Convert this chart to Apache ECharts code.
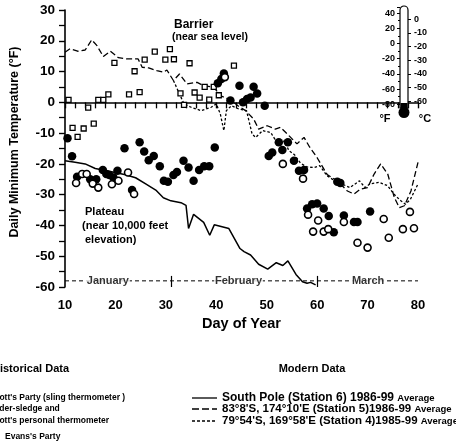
<!DOCTYPE html>
<html><head><meta charset="utf-8">
<script src="https://cdn.jsdelivr.net/npm/echarts@6/dist/echarts.min.js"></script>
<style>html,body{margin:0;padding:0;background:#fff}#c{width:456px;height:448px}</style>
</head><body><div id="c"></div>
<script>
// ---- Historical data ----
// Lt. Evans's party (open squares)
const evansDays  = [10.7,11.5,12.5,13.7,14.6,15.7,16.6,17.6,18.6,19.8,22.7,23.8,24.8,25.8,27.8,29.9,30.8,31.6,32.9,33.6,34.7,35.7,36.7,37.7,38.6,39.5,40.5,43.5];
const evansTemps = [0.8,-8.3,-11.2,-8.5,-1.7,-6.9,0.8,0.8,2.6,12.8,2.6,10.1,3.3,13.9,16.5,13.9,17.3,14.0,2.9,-0.8,12.7,3.2,1.5,5.0,0.9,5.0,2.3,11.9];
// Scott's party, sling thermometer (filled circles)
const scottDays  = [10.5,11.4,12.4,15.0,16.2,17.5,18.2,18.8,19.6,20.4,21.8,23.3,24.8,25.7,26.6,27.6,28.8,29.6,30.4,31.5,32.2,33.5,34.5,35.5,36.6,37.6,38.6,39.7,40.3,41.0,41.5,42.8,44.6,45.3,46.1,46.8,47.4,48.1,49.6,50.4,51.1,52.4,53.1,54.2,55.4,56.4,57.4,58.0,59.0,60.0,61.3,62.3,63.3,64.0,64.6,65.3,67.3,68.0,70.5];
const scottTemps = [-11.7,-17.5,-24.2,-25.0,-25.0,-22.0,-23.3,-23.6,-24.4,-22.2,-14.9,-28.5,-13.0,-16.0,-18.8,-17.4,-20.8,-25.5,-25.8,-23.6,-22.6,-19.0,-21.2,-25.5,-22.0,-20.8,-20.8,-14.7,6.2,7.6,9.4,0.6,5.4,0.0,1.1,1.6,5.1,2.9,-1.1,-17.4,-16.3,-13.0,-15.5,-13.0,-19.0,-22.2,-22.0,-34.5,-33.1,-32.9,-34.5,-36.9,-42.2,-25.8,-26.2,-36.8,-38.9,-38.9,-35.5];
// Under-sledge and Scott's personal thermometer (open circles)
const sledgeDays  = [12.2,13.4,14.3,15.5,16.6,19.3,20.6,22.5,23.7,41.7,53.2,57.2,58.2,59.2,60.2,61.3,62.2,65.3,68.0,70.0,73.2,74.2,77.0,78.4,79.2];
const sledgeTemps = [-26.2,-23.3,-23.3,-26.4,-27.7,-26.6,-25.5,-22.8,-29.8,8.2,-20.0,-24.8,-36.5,-42.0,-38.4,-42.0,-41.2,-38.9,-45.6,-47.2,-37.9,-44.0,-41.2,-35.6,-40.9];
// ---- Modern data ----
const spDays  = [10,12,14,16,19,22,24,26,28,29.5,31,33,34,34.5,35.5,37.5,38.7,39.6,42.5,44.7,45.5,46.8,48.4,50.2,51.9,53.2,54.2,55.8,57.1,58,58.7,59.7];
const spTemps = [-19,-19.5,-20,-21.5,-22.5,-23.5,-24.5,-26.5,-28.5,-31,-32,-32.6,-33.5,-41,-36.4,-39,-43.2,-39.8,-41,-47.5,-48.5,-49.6,-52.6,-54.2,-52.1,-53,-51.5,-55.9,-58.3,-58.8,-58.5,-59.3];
const s5Days  = [10,11,12.5,14,15.3,16.3,17.6,19,20.6,22.3,24.5,25.3,26.6,28.2,29.5,30.2,31.5,32.7,34.2,36.2,37.5,39.5,40.8,43,44.3,45.8,47.4,48.4,50.1,51.7,52.7,54.1,56,57.4,58.5,60,62,64,66,67.3,68.6,70,71.3,72.6,74,75.3,76.3,77.3,78.6,80];
const s5Temps = [16.3,17.4,16.6,17,20.3,18.5,14.9,16.6,14.5,14.1,14.1,11.4,11.2,10.3,9.8,10.5,7.1,9.2,6.0,6.5,5.4,4.9,2.2,0.6,-1.1,-2.7,-5.4,-8.7,-7.6,-8.7,-8.1,-10.3,-13.5,-11.4,-14.5,-18,-23.5,-25.5,-28.8,-29.8,-28.2,-27.7,-23.3,-20,-23.3,-30.9,-34.2,-33.6,-28.8,-19.5];
const s4Days  = [31.5,33.6,35,37,39,40,40.8,41.5,42,43,44.5,46,47.1,47.8,49.2,50.8,52.2,53.5,54.4,55.5,56.7,58,59.4,60.5,62,63.5,65,66.5,68.4,69.5,70.5,72.3,74,75.2,76.6,77.5,78.5,80];
const s4Temps = [7.1,-0.5,-1.6,-2.7,-1.6,-0.5,-3.8,-9.2,-2.7,-1.1,-2.2,-2.7,-10.3,-11.4,-9.2,-9.8,-13.5,-12.5,-15.7,-17,-19.8,-21,-21.2,-20.6,-23.9,-25.5,-26.6,-27.7,-25.5,-27.7,-26.5,-26,-27.1,-29.8,-32,-33.1,-31.5,-26.5];
// ---- Month band ----
const monthNames = ['January','February','March'];
const monthMid   = [18.5,44.4,70.1];
const monthBounds = [31,60];
const monthLevel = -58;
// ---- Thermometer scale ----
const thermoF = [-80,48];
const thermoC = [0,-10,-20,-30,-40,-50,-60];

const FF = '"Liberation Sans", Arial, sans-serif';
const zip = (a,b)=>a.map((v,i)=>[v,b[i]]);
const chart = echarts.init(document.getElementById('c'));
const bold = (s)=>({color:'#000',fontFamily:FF,fontWeight:'bold',fontSize:s});

const option = {
  animation:false,
  backgroundColor:'#fff',
  grid:[{left:65,top:10,width:353,height:277},{left:400,top:7,width:8,height:97.3}],
  xAxis:[
    {type:'value',gridIndex:0,min:10,max:80,interval:10,
     axisLine:{lineStyle:{color:'#000',width:1.6}},
     axisTick:{length:6,lineStyle:{color:'#000',width:1.4}},
     minorTick:{show:true,splitNumber:5,length:6,lineStyle:{color:'#000',width:1.3}},
     splitLine:{show:false},
     axisLabel:Object.assign({margin:12},bold(13)),
     name:'Day of Year',nameLocation:'middle',nameGap:21,nameTextStyle:bold(14.5)},
    {type:'value',gridIndex:1,show:false,min:0,max:1}
  ],
  yAxis:[
    {type:'value',gridIndex:0,min:-60,max:30,interval:10,
     axisLine:{show:true,lineStyle:{color:'#000',width:1.6}},
     axisTick:{show:true,length:6,lineStyle:{color:'#000',width:1.4}},
     minorTick:{show:true,splitNumber:2,length:6,lineStyle:{color:'#000',width:1.3}},
     splitLine:{show:false},
     axisLabel:Object.assign({margin:10},bold(13.5))},
    {type:'value',gridIndex:1,min:thermoF[0],max:thermoF[1],interval:20,
     axisLine:{show:false},
     axisTick:{show:true,length:3,lineStyle:{color:'#000',width:1}},
     minorTick:{show:true,splitNumber:2,length:2,lineStyle:{color:'#000',width:1}},
     splitLine:{show:false},
     axisLabel:Object.assign({margin:5},bold(9))},
    {type:'value',gridIndex:1,position:'right',min:(thermoF[0]-32)/1.8,max:(thermoF[1]-32)/1.8,
     axisLine:{show:false},
     axisTick:{show:true,length:3,customValues:thermoC,lineStyle:{color:'#000',width:1}},
     splitLine:{show:false},
     axisLabel:Object.assign({margin:6,customValues:thermoC},bold(9))}
  ],
  series:[
    {type:'line',name:'Station 5',data:zip(s5Days,s5Temps),symbol:'none',
     lineStyle:{color:'#000',width:1.3,type:[6,3]},z:2},
    {type:'line',name:'Station 4',data:zip(s4Days,s4Temps),symbol:'none',
     lineStyle:{color:'#000',width:1.3,type:[2.5,2]},z:2},
    {type:'line',name:'South Pole',data:zip(spDays,spTemps),symbol:'none',
     lineStyle:{color:'#000',width:1.5},z:2},
    {type:'line',name:'months',data:[[10,monthLevel],[80,monthLevel]],symbol:'none',
     lineStyle:{color:'#000',width:1,type:[4,3]},z:1,
     markLine:{silent:true,symbol:'none',label:{show:false},
       lineStyle:{color:'#000',width:1.2,type:'solid'},
       data:monthBounds.map(d=>[{coord:[d,monthLevel+1.6]},{coord:[d,-60]}])}},
    {type:'scatter',name:'monthLabels',symbolSize:0,z:3,
     data:monthMid.map((d,i)=>({value:[d,monthLevel],name:monthNames[i]})),
     label:Object.assign({show:true,position:'inside',formatter:p=>p.name,
       backgroundColor:'#fff',padding:[0,1]},bold(11))},
    {type:'scatter',name:'Evans',data:zip(evansDays,evansTemps),symbol:'rect',symbolSize:5,
     itemStyle:{color:'#fff',borderColor:'#000',borderWidth:1.3,opacity:1},z:4},
    {type:'scatter',name:'Scott',data:zip(scottDays,scottTemps),symbol:'circle',symbolSize:8.5,
     itemStyle:{color:'#000',opacity:1},z:5},
    {type:'scatter',name:'Sledge',data:zip(sledgeDays,sledgeTemps),symbol:'circle',symbolSize:7,
     itemStyle:{color:'#fff',borderColor:'#000',borderWidth:1.6,opacity:1},z:6}
  ],
  graphic:[
    {type:'text',x:15,y:142,rotation:Math.PI/2,style:{text:'Daily Minimum Temperature (°F)',
      font:'bold 12.5px '+FF,fill:'#000',align:'center',verticalAlign:'middle'}},
    {type:'text',x:174,y:25,style:{text:'Barrier',font:'bold 12px '+FF,fill:'#000',verticalAlign:'middle'}},
    {type:'text',x:172,y:37,style:{text:'(near sea level)',font:'bold 10.5px '+FF,fill:'#000',verticalAlign:'middle'}},
    {type:'text',x:85,y:212,style:{text:'Plateau',font:'bold 11px '+FF,fill:'#000',verticalAlign:'middle'}},
    {type:'text',x:82,y:226,style:{text:'(near 10,000 feet',font:'bold 11px '+FF,fill:'#000',verticalAlign:'middle'}},
    {type:'text',x:85,y:240,style:{text:'elevation)',font:'bold 11px '+FF,fill:'#000',verticalAlign:'middle'}},
    // thermometer
    {type:'rect',shape:{x:400,y:6,width:8,height:102,r:[4,4,0,0]},style:{fill:'#fff',stroke:'#000',lineWidth:1.2},z:5},
    {type:'rect',shape:{x:400.5,y:103,width:7,height:8},style:{fill:'#000'},z:6},
    {type:'circle',shape:{cx:404,cy:112.5,r:5.5},style:{fill:'#000'},z:6},
    {type:'text',x:385,y:119,style:{text:'°F',font:'bold 11px '+FF,fill:'#000',align:'center',verticalAlign:'middle'}},
    {type:'text',x:425,y:119,style:{text:'°C',font:'bold 11px '+FF,fill:'#000',align:'center',verticalAlign:'middle'}},
    // legend - historical
    {type:'text',x:-8,y:369,style:{text:'Historical Data',font:'bold 11px '+FF,fill:'#000',verticalAlign:'middle'}},
    {type:'text',x:-11,y:398,style:{text:"Scott's Party (sling thermometer )",font:'bold 8.5px '+FF,fill:'#000',verticalAlign:'middle'}},
    {type:'text',x:-12,y:409,style:{text:'Under-sledge and',font:'bold 8.5px '+FF,fill:'#000',verticalAlign:'middle'}},
    {type:'text',x:-11,y:421,style:{text:"Scott's personal thermometer",font:'bold 8.5px '+FF,fill:'#000',verticalAlign:'middle'}},
    {type:'text',x:5,y:437,style:{text:"Evans's Party",font:'bold 8.5px '+FF,fill:'#000',verticalAlign:'middle'}},
    // legend - modern
    {type:'text',x:312,y:369,style:{text:'Modern Data',font:'bold 11px '+FF,fill:'#000',align:'center',verticalAlign:'middle'}},
    {type:'line',shape:{x1:192,y1:398,x2:217,y2:398},style:{stroke:'#000',lineWidth:1.3}},
    {type:'line',shape:{x1:192,y1:409,x2:217,y2:409},style:{stroke:'#000',lineWidth:1.3,lineDash:[7,3]}},
    {type:'line',shape:{x1:192,y1:421,x2:217,y2:421},style:{stroke:'#000',lineWidth:1.3,lineDash:[3,2]}},
    {type:'text',x:222,y:398,style:{text:'{a|South Pole (Station 6) 1986-99 }{b|Average}',verticalAlign:'middle',
      rich:{a:{font:'bold 12px '+FF,fill:'#000'},b:{font:'bold 9.5px '+FF,fill:'#000'}}}},
    {type:'text',x:222,y:409,style:{text:"{a|83°8'S, 174°10'E (Station 5)1986-99 }{b|Average}",verticalAlign:'middle',
      rich:{a:{font:'bold 11.5px '+FF,fill:'#000'},b:{font:'bold 9.5px '+FF,fill:'#000'}}}},
    {type:'text',x:222,y:421,style:{text:"{a|79°54'S, 169°58'E (Station 4)1985-99 }{b|Average}",verticalAlign:'middle',
      rich:{a:{font:'bold 11.5px '+FF,fill:'#000'},b:{font:'bold 9.5px '+FF,fill:'#000'}}}}
  ]
};
chart.setOption(option);
</script></body></html>
